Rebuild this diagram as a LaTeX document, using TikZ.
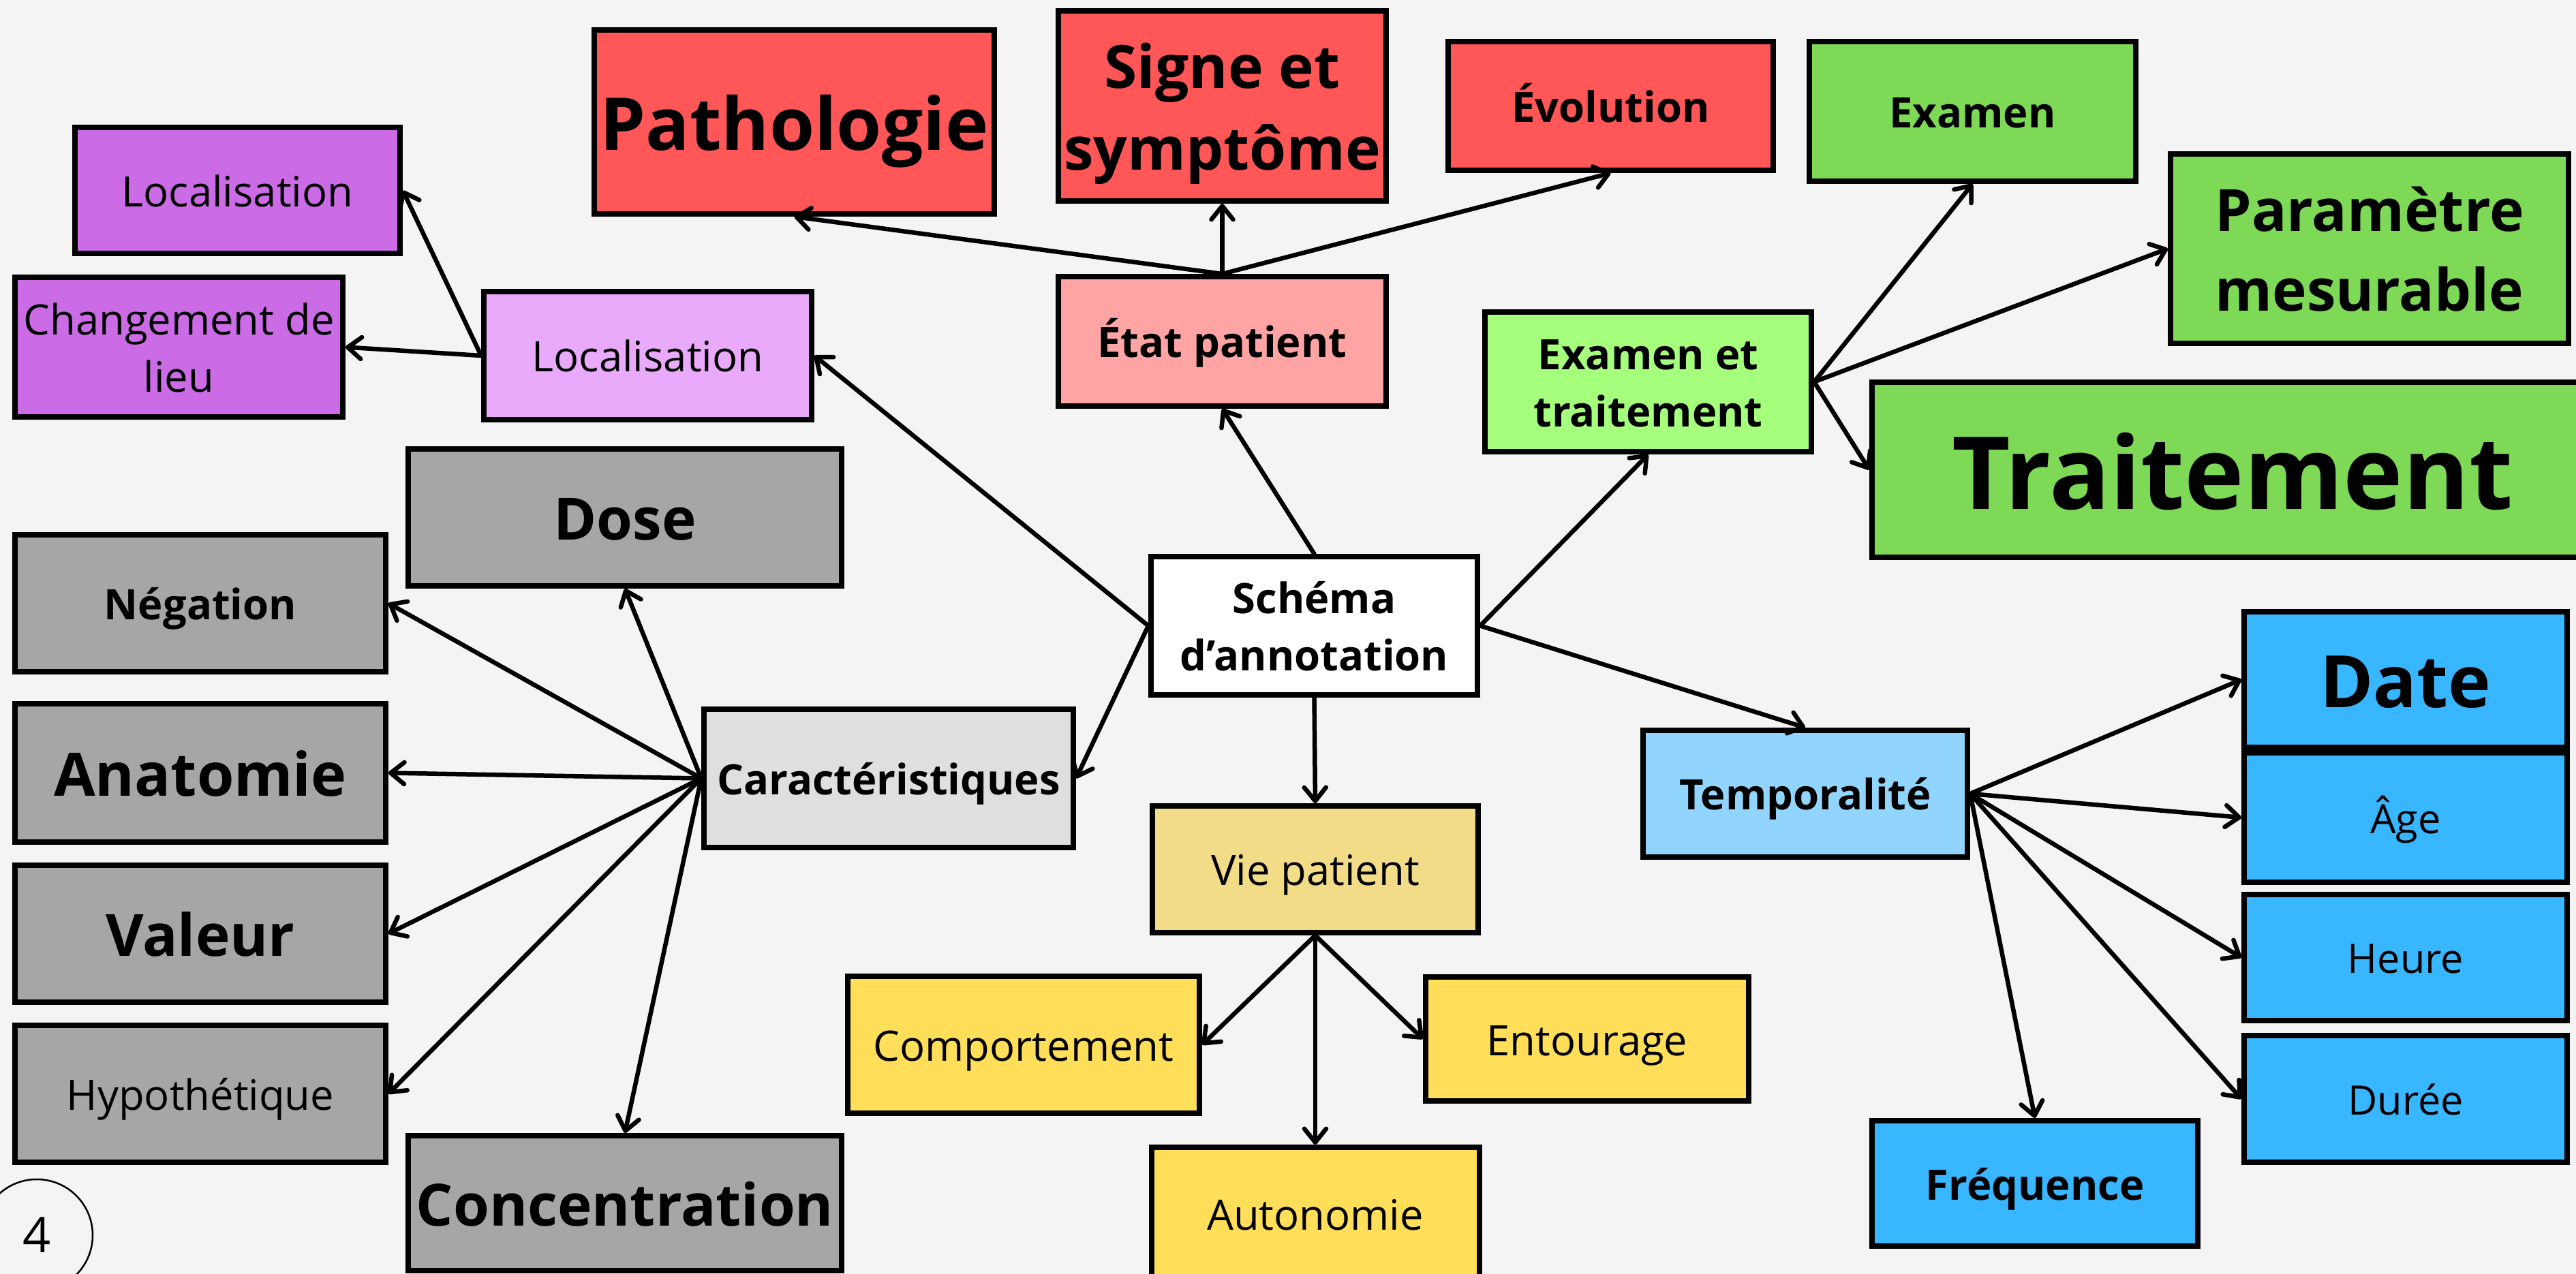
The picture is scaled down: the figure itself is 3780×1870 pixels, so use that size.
\documentclass[tikz,border=0pt]{standalone}
\usepackage{fontspec}
\setmainfont{Open Sans}
\usetikzlibrary{arrows.meta}
\definecolor{bgc}{HTML}{F4F4F4}
\definecolor{cRed}{HTML}{FF5757}
\definecolor{cPinkRed}{HTML}{FFA4A4}
\definecolor{cPurple}{HTML}{CB6CE6}
\definecolor{cLilac}{HTML}{EAAAFB}
\definecolor{cGrey}{HTML}{A6A6A6}
\definecolor{cLGrey}{HTML}{DFDFDF}
\definecolor{cGreen}{HTML}{7ED957}
\definecolor{cLGreen}{HTML}{A6FF7C}
\definecolor{cYellow}{HTML}{FFDE59}
\definecolor{cPaleYellow}{HTML}{F3DC88}
\definecolor{cBlue}{HTML}{38B6FF}
\definecolor{cLBlue}{HTML}{91D5FF}
\newcommand\lsx{\vrule width 0pt height 1.07em depth 0.29em\relax}
\newcommand\fsz[2]{\fontsize{#1pt}{#2pt}\selectfont}
\tikzset{
  box/.style={draw=black, line width=8pt, rectangle, inner sep=0pt, align=center, text=black},
  conn/.style={line width=6.5pt, -{Straight Barb[length=20pt,width=32pt,round]}, line cap=round, line join=round},
  rg/.style={font=\fsz{61.5}{83.5}},
  bd/.style={font=\fsz{61.5}{83.5}\bfseries},
  bdbig/.style={font=\fsz{85.5}{116}\bfseries},
}
\begin{document}
\begin{tikzpicture}[x=1pt,y=-1pt]
\useasboundingbox (0,0) rectangle (3780,1870);
\clip (0,0) rectangle (3780,1870);
\fill[bgc] (0,0) rectangle (3780,1870);

% purple / localisation
\node[box, fill=cPurple, rg, minimum width=477pt, minimum height=185pt] (locA) at (348.5,279.5) {\lsx Localisation};
\node[box, fill=cPurple, rg, minimum width=481pt, minimum height=205pt] (chg) at (262.5,509.5) {\lsx Changement de\\\lsx lieu};
\node[box, fill=cLilac, rg, minimum width=481pt, minimum height=188pt] (locB) at (950.5,522) {\lsx Localisation};

% red / etat patient
\node[box, fill=cRed, font=\fsz{107}{146}\bfseries, minimum width=587pt, minimum height=270pt] (patho) at (1165.5,179) {\lsx Pathologie};
\node[box, fill=cRed, font=\fsz{87.5}{119}\bfseries, minimum width=481pt, minimum height=279pt] (signe) at (1793.5,155.5) {\lsx Signe et\\\lsx symptôme};
\node[box, fill=cRed, bd, minimum width=477pt, minimum height=189pt] (evol) at (2363.5,155.5) {\lsx Évolution};
\node[box, fill=cPinkRed, bd, minimum width=481pt, minimum height=190pt] (etat) at (1793.5,501) {\lsx État patient};

% green
\node[box, fill=cLGreen, bd, minimum width=479pt, minimum height=205pt] (exT) at (2418.5,560.5) {\lsx Examen et\\\lsx traitement};
\node[box, fill=cGreen, bd, minimum width=479pt, minimum height=205pt] (exam) at (2894.5,163.5) {\lsx Examen};
\node[box, fill=cGreen, bdbig, minimum width=584pt, minimum height=278pt] (param) at (3477,365) {\lsx Paramètre\\\lsx mesurable};
\node[box, fill=cGreen, font=\fsz{148}{201}\bfseries, minimum width=1058pt, minimum height=257pt] (trait) at (3276,689.5) {\lsx Traitement};

% grey
\node[box, fill=cGrey, bdbig, minimum width=636pt, minimum height=201pt] (dose) at (917,759.5) {\lsx Dose};
\node[box, fill=cGrey, bd, minimum width=544pt, minimum height=201pt] (neg) at (294,885.5) {\lsx Négation};
\node[box, fill=cGrey, font=\fsz{88}{120}\bfseries, minimum width=544pt, minimum height=203pt] (anat) at (294,1134.5) {\lsx Anatomie};
\node[box, fill=cGrey, bdbig, minimum width=544pt, minimum height=201pt] (val) at (294,1370.5) {\lsx Valeur};
\node[box, fill=cGrey, rg, minimum width=544pt, minimum height=201pt] (hyp) at (294,1605.5) {\lsx Hypothétique};
\node[box, fill=cGrey, bdbig, minimum width=636pt, minimum height=198pt] (conc) at (917,1766) {\lsx Concentration};
\node[box, fill=cLGrey, bd, minimum width=542pt, minimum height=203pt] (car) at (1304,1142.5) {\lsx Caractéristiques};

% centre
\node[box, fill=white, bd, minimum width=479pt, minimum height=203pt] (schema) at (1928.5,918.5) {\lsx Schéma\\\lsx d’annotation};

% yellow
\node[box, fill=cPaleYellow, rg, minimum width=478pt, minimum height=186pt] (vie) at (1930,1276) {\lsx Vie patient};
\node[box, fill=cYellow, rg, minimum width=516pt, minimum height=201pt] (comp) at (1502,1533.5) {\lsx Comportement};
\node[box, fill=cYellow, rg, minimum width=474pt, minimum height=182pt] (ent) at (2329,1525) {\lsx Entourage};
\node[box, fill=cYellow, rg, minimum width=481pt, minimum height=194pt] (auto) at (1930,1781) {\lsx Autonomie};

% blue
\node[box, fill=cLBlue, bd, minimum width=476pt, minimum height=186pt] (temp) at (2649,1165) {\lsx Temporalité};
\node[box, fill=cBlue, font=\fsz{106}{144}\bfseries, minimum width=474pt, minimum height=199pt] (date) at (3530,997.5) {\lsx Date};
\node[box, fill=cBlue, font=\fsz{59.5}{81}, minimum width=474pt, minimum height=190pt] (age) at (3530,1200) {\lsx Âge};
\node[box, fill=cBlue, font=\fsz{59.5}{81}, minimum width=474pt, minimum height=185pt] (heure) at (3530,1405.5) {\lsx Heure};
\node[box, fill=cBlue, font=\fsz{59.5}{81}, minimum width=474pt, minimum height=186pt] (duree) at (3530,1613) {\lsx Durée};
\node[box, fill=cBlue, bd, minimum width=478pt, minimum height=184pt] (freq) at (2986,1737) {\lsx Fréquence};

% page number
\node[circle, draw=black, line width=2.5pt, minimum size=164pt, inner sep=0pt, font=\fsz{72}{86}] (pg) at (54,1813) {4};

% connectors
\draw[conn] (schema.west) -- (locB.east);
\draw[conn] (schema.west) -- (car.east);
\draw[conn] (schema.north) -- (etat.south);
\draw[conn] (schema.east) -- (exT.south);
\draw[conn] (schema.east) -- (temp.north);
\draw[conn] (schema.south) -- (vie.north);

\draw[conn] (vie.south) -- (comp.east);
\draw[conn] (vie.south) -- (auto.north);
\draw[conn] (vie.south) -- (ent.west);

\draw[conn] (etat.north) -- (patho.south);
\draw[conn] (etat.north) -- (signe.south);
\draw[conn] (etat.north) -- (evol.south);

\draw[conn] (locB.west) -- (locA.east);
\draw[conn] (locB.west) -- (chg.east);

\draw[conn] (exT.east) -- (exam.south);
\draw[conn] (exT.east) -- (param.west);
\draw[conn] (exT.east) -- (trait.west);

\draw[conn] (car.west) -- (dose.south);
\draw[conn] (car.west) -- (neg.east);
\draw[conn] (car.west) -- (anat.east);
\draw[conn] (car.west) -- (val.east);
\draw[conn] (car.west) -- (hyp.east);
\draw[conn] (car.west) -- (conc.north);

\draw[conn] (temp.east) -- (date.west);
\draw[conn] (temp.east) -- (age.west);
\draw[conn] (temp.east) -- (heure.west);
\draw[conn] (temp.east) -- (duree.west);
\draw[conn] (temp.east) -- (freq.north);
\end{tikzpicture}
\end{document}
